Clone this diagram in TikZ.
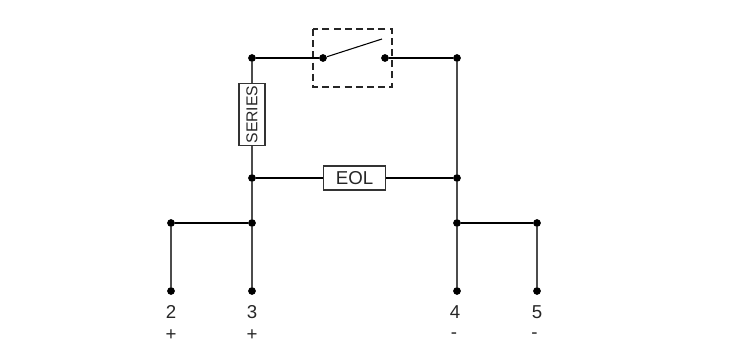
\documentclass[tikz,border=0pt]{standalone}
\usepackage{fontspec}
\setmainfont{Liberation Sans}
\tikzset{
  dot/.style={circle, fill=black, inner sep=0pt, minimum size=5.8pt},
  wire/.style={line width=0.8pt},
  riser/.style={line width=1pt, black!70},
  part/.style={draw=black!80, fill=white, text=black!85, line width=0.8pt, inner sep=0pt},
  Pin/.style={font=\fontsize{14}{16}\selectfont, inner sep=0pt, text=black!85}
}
\begin{document}
\begin{tikzpicture}[x=0.75pt,y=-0.75pt]
\useasboundingbox (0,0) rectangle (747,360);
\coordinate (BladeEnd) at (382,39);
\coordinate (SwBoxA) at (313,29);
\coordinate (SwBoxB) at (392,87);
\draw[dashed, line width=0.8pt, black!85, dash pattern=on 5.2pt off 3.2pt] (SwBoxA) rectangle (SwBoxB);
\foreach \name/\x/\y in {TopLeft/252/58,SwA/323/58,SwB/385/58,TopRight/457/58,MidLeft/252/178,MidRight/457/178,BusA/171/223,BusB/252/223,BusC/457/223,BusD/537/223,Pin2/171/291,Pin3/252/291,Pin4/457/291,Pin5/537/291}\node[dot] (\name) at (\x,\y) {};
\draw[wire] (TopLeft) -- (SwA);
\draw[wire] (SwA) -- (BladeEnd);
\draw[wire] (SwB) -- (TopRight);
\draw[riser] (TopLeft) -- (MidLeft);
\draw[riser] (MidLeft) -- (BusB);
\draw[riser] (BusB) -- (Pin3);
\draw[wire] (BusA) -- (BusB);
\draw[riser] (BusA) -- (Pin2);
\draw[riser] (TopRight) -- (MidRight);
\draw[riser] (MidRight) -- (BusC);
\draw[riser] (BusC) -- (Pin4);
\draw[wire] (BusC) -- (BusD);
\draw[riser] (BusD) -- (Pin5);
\draw[wire] (MidLeft) -- (MidRight);
\node[part, minimum width=46pt, minimum height=18pt, font=\fontsize{14}{16}\selectfont] (EOL) at (354.5,178) {EOL};
\node[part, minimum width=46pt, minimum height=19.5pt, rotate=90, font=\fontsize{11.8}{13}\selectfont] (SERIES) at (252,114.5) {SERIES};
\node[Pin] (Label2) at (171,312) {2};  \node[Pin] (Sign2) at (171,335) {+};
\node[Pin] (Label3) at (252,312) {3};  \node[Pin] (Sign3) at (252,335) {+};
\node[Pin] (Label4) at (455,312) {4};  \node[Pin] (Sign4) at (454,336) {-};
\node[Pin] (Label5) at (537,312) {5};  \node[Pin] (Sign5) at (534.5,336) {-};
\end{tikzpicture}
\end{document}
